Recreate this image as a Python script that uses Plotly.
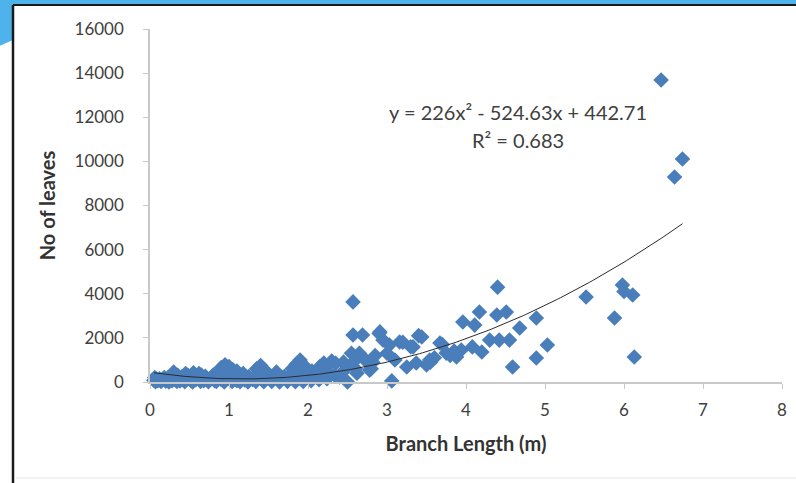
import numpy as np
import plotly.graph_objects as go

# ---- data ----
branch_length = [
    0.05, 0.06, 0.08, 0.10, 0.12, 0.15, 0.18, 0.20, 0.22, 0.25, 0.28, 0.30, 0.32, 0.35,
    0.38, 0.40, 0.42, 0.45, 0.48, 0.50, 0.52, 0.55, 0.58, 0.60, 0.62, 0.65, 0.68, 0.70,
    0.72, 0.75, 0.78, 0.80, 0.82, 0.85, 0.88, 0.90, 0.92, 0.95, 0.98, 1.00, 1.02, 1.05,
    1.08, 1.10, 1.12, 1.15, 1.18, 1.20, 1.25, 1.30, 1.35, 1.40, 1.45, 1.50, 1.55, 1.60,
    1.65, 1.70, 1.75, 1.80, 1.85, 1.90, 1.95, 2.00, 2.05, 2.10, 2.15, 2.20, 2.25,
    0.30, 0.45, 0.55, 0.65, 0.90, 0.95, 1.00, 1.05, 1.10, 1.35, 1.40, 1.45, 1.60, 1.80,
    1.85, 1.90, 1.95, 2.05, 2.15, 2.20, 2.30, 2.35, 2.40, 2.45, 2.50, 2.50, 2.55, 2.57,
    2.57, 2.60, 2.60, 2.62, 2.65, 2.69, 2.70, 2.75, 2.78, 2.80, 2.82, 2.85, 2.90, 2.91,
    2.95, 3.00, 3.03, 3.06, 3.10, 3.16, 3.20, 3.25, 3.30, 3.33, 3.37, 3.40, 3.44, 3.50,
    3.54, 3.55, 3.60, 3.67, 3.70, 3.75, 3.80, 3.85, 3.88, 3.94, 3.96, 4.08, 4.11, 4.17,
    4.20, 4.30, 4.39, 4.40, 4.42, 4.51, 4.55, 4.59, 4.68, 4.89, 4.89, 5.03, 5.52, 5.88,
    5.98, 6.00, 6.11, 6.13, 6.47, 6.64, 6.74,
    0.07, 0.14, 0.24, 0.34, 0.44, 0.54, 0.64, 0.74, 0.84, 0.94, 1.04, 1.14, 1.24, 1.34,
    1.44, 1.54, 1.64, 1.74, 1.84, 1.94, 2.04, 2.14, 2.24, 2.34, 2.44,
]
no_of_leaves = [
    80, 200, 120, 60, 150, 90, 200, 40, 130, 250, 60, 180, 100, 300,
    50, 220, 140, 80, 300, 150, 60, 250, 100, 180, 380, 120, 60, 260,
    150, 90, 200, 320, 60, 180, 400, 120, 250, 80, 300, 160, 450, 100,
    220, 60, 300, 150, 380, 90, 250, 120, 350, 200, 80, 300, 150, 400,
    100, 250, 180, 350, 120, 450, 200, 300, 150, 400, 250, 350, 500,
    450, 380, 420, 320, 650, 780, 700, 550, 500, 600, 750, 550, 450, 600,
    800, 1000, 750, 500, 700, 860, 950, 850, 230, 900, 0, 700, 1300, 3630,
    2130, 600, 1000, 400, 1300, 2130, 1100, 900, 540, 600, 900, 1200, 2200, 2270,
    1900, 1300, 1680, 50, 1000, 1810, 1800, 680, 1600, 1590, 860, 2100, 2040, 770,
    1000, 900, 1100, 1770, 1700, 1310, 1200, 1400, 1130, 1450, 2720, 1590, 2580, 3170,
    1360, 1900, 3040, 4300, 1900, 3170, 1900, 680, 2450, 2900, 1090, 1680, 3850, 2900,
    4400, 4100, 3940, 1130, 13690, 9290, 10110,
    10, 20, 0, 30, 10, 0, 20, 10, 30, 0, 20, 10, 0, 30,
    10, 20, 0, 30, 10, 20, 60, 100, 150, 300, 450,
]
trend_coeffs = [226, -524.63, 442.71]   # y = 226x^2 - 524.63x + 442.71
r_squared = 0.683
x_ticks = [0, 1, 2, 3, 4, 5, 6, 7, 8]
x_tick_labels = ["0", "1", "2", "3", "4", "5", "6", "7", "8"]
y_ticks = [0, 2000, 4000, 6000, 8000, 10000, 12000, 14000, 16000]
y_tick_labels = ["0", "2000", "4000", "6000", "8000", "10000", "12000", "14000", "16000"]

# ---- figure ----
W, H = 796, 483
L, R, T, B = 150, 14, 29, 101
pw, ph = W - L - R, H - T - B

def px(xp):
    return (xp - L) / pw

def py(yp):
    return (H - B - yp) / ph

fig = go.Figure()
fig.add_trace(go.Scatter(
    x=branch_length, y=no_of_leaves, mode="markers",
    marker=dict(symbol="diamond", size=12, color="#4A7EBB"),
    cliponaxis=False, showlegend=False,
))
xfit = np.linspace(min(branch_length), max(branch_length), 200)
yfit = np.polyval(trend_coeffs, xfit)
fig.add_trace(go.Scatter(
    x=xfit, y=yfit, mode="lines",
    line=dict(color="#2b2b2b", width=1), cliponaxis=False, showlegend=False,
))

font = "Lato, 'Open Sans', sans-serif"
fig.update_layout(
    width=W, height=H,
    margin=dict(l=L, r=R, t=T, b=B, autoexpand=False),
    paper_bgcolor="white", plot_bgcolor="white",
    font=dict(family=font, color="#404040", size=17),
    xaxis=dict(
        range=[0, 8], tickvals=x_ticks, ticktext=x_tick_labels,
        showgrid=False, zeroline=False,
        showline=True, linecolor="#C8C8C8", linewidth=1.5,
        ticks="outside", ticklen=5, tickcolor="#C8C8C8",
        tickfont=dict(size=17, color="#404040"), ticklabelstandoff=7,
        title=dict(text="<b>Branch Length (m)</b>", font=dict(size=20, color="#333333"), standoff=18),
    ),
    yaxis=dict(
        range=[0, 16000], tickvals=y_ticks, ticktext=y_tick_labels,
        showgrid=False, zeroline=False,
        showline=True, linecolor="#C8C8C8", linewidth=1.5,
        ticks="outside", ticklen=5, tickcolor="#C8C8C8",
        tickfont=dict(size=17, color="#404040"), ticklabelstandoff=16,
        title=dict(text="<b>No of leaves</b>", font=dict(size=20, color="#333333"), standoff=14),
    ),
)

fig.add_annotation(
    xref="paper", yref="paper", x=px(518), y=py(112), xanchor="center", yanchor="middle",
    showarrow=False, text="y = 226x² - 524.63x + 442.71",
    font=dict(size=20, color="#404040", family=font),
)
fig.add_annotation(
    xref="paper", yref="paper", x=px(518), y=py(140), xanchor="center", yanchor="middle",
    showarrow=False, text="R² = %.3f" % r_squared,
    font=dict(size=20, color="#404040", family=font),
)

# decorative frame and blue band of the slide
shapes = [
    dict(type="rect", xref="paper", yref="paper", x0=px(-5), x1=px(W + 5),
         y0=py(5), y1=py(-5), fillcolor="#4DB3EA", line_width=0, layer="below"),
    dict(type="path", xref="paper", yref="paper",
         path="M %f %f L %f %f L %f %f Q %f %f %f %f Z" % (
             px(-5), py(-5), px(13), py(-5), px(13), py(40),
             px(6), py(43), px(-5), py(48)),
         fillcolor="#4DB3EA", line_width=0, layer="below"),
    dict(type="line", xref="paper", yref="paper", x0=px(13), x1=px(W + 5),
         y0=py(5), y1=py(5), line=dict(color="#1a1a1a", width=2)),
    dict(type="line", xref="paper", yref="paper", x0=px(13), x1=px(13),
         y0=py(5), y1=py(H + 5), line=dict(color="#1a1a1a", width=2.5)),
    dict(type="line", xref="paper", yref="paper", x0=px(16), x1=px(W + 5),
         y0=py(478), y1=py(478), line=dict(color="#E6E6E6", width=1)),
]
fig.update_layout(shapes=shapes)

fig.write_html("out.html", config={"displayModeBar": False},
               post_script="document.body.style.margin='0';document.body.style.overflow='hidden';")
